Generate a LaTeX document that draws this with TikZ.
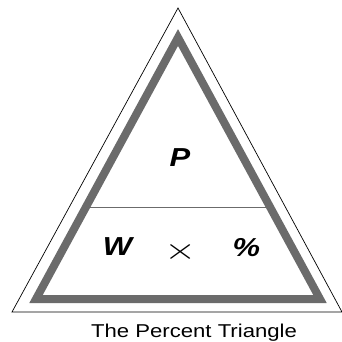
\documentclass[tikz,border=0pt]{standalone}
\usepackage{fontspec}
\setmainfont{Liberation Sans}
\newfontfamily\widesans[FakeStretch=1.19]{Liberation Sans}
\usepackage{graphicx}
\usepackage{tikz}
\usetikzlibrary{positioning,calc}
\usepackage{xcolor}
\definecolor{frame}{RGB}{107,107,107}

\begin{document}
\begin{tikzpicture}[x=1pt, y=-1pt,
  outline/.style={draw, line width=0.7pt, line join=miter},
  band/.style={draw=frame, line width=8pt, line join=miter},
  divider/.style={draw=frame, line width=0.9pt},
  letter/.style={font=\widesans\fontsize{26}{30}\selectfont\bfseries\itshape, inner sep=0pt},
  caption/.style={font=\widesans\fontsize{18.6}{22}\selectfont, inner sep=0pt, anchor=base},
]
  \useasboundingbox (0,0) rectangle (342,341);
  % outer thin triangle
  \draw[outline] (178,8) -- (12,312) -- (342,312) -- cycle;
  % thick grey band
  \draw[band] (178,37.5) -- (36,299) -- (320,299) -- cycle;
  \coordinate (divL) at (89,207);
  \coordinate (divR) at (267,207);
  \draw[divider] (divL) -- (divR);
  \node[letter] (part) at (180,158) {P};
  \node[letter] (whole) at (117.5,247) {W};
  \node[font=\fontsize{22}{26}\selectfont, inner sep=0pt] (times) at (181,251.5) {\scalebox{2.0}[1.45]{$\times$}};
  \node[letter] (percent) at (246.5,247.5) {\%};
  \node[caption] (title) at (194,337.5) {The Percent Triangle};
\end{tikzpicture}
\end{document}
